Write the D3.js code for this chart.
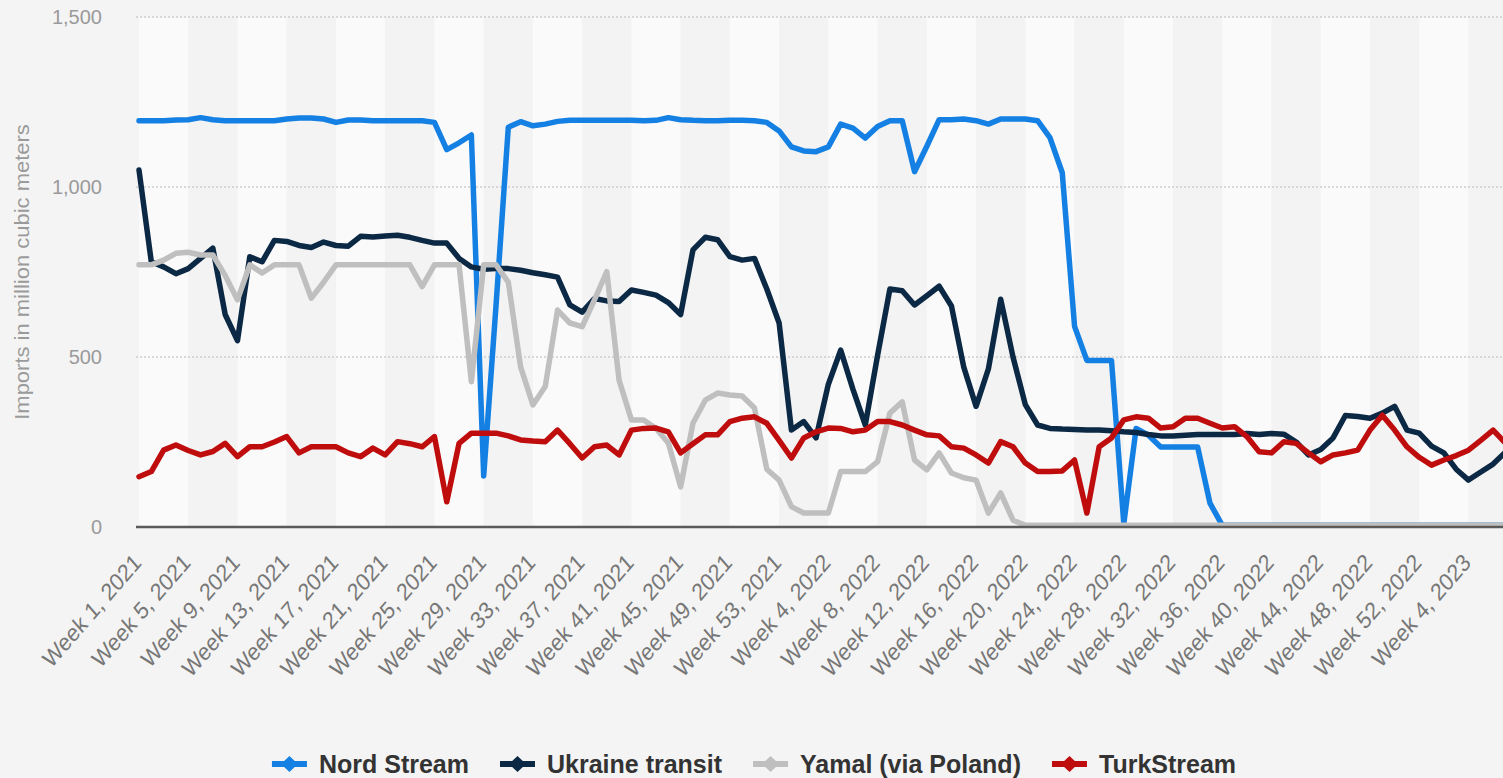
<!DOCTYPE html>
<html>
<head>
<meta charset="utf-8">
<script src="https://cdn.jsdelivr.net/npm/d3@7"></script>
<style>
  html, body { margin: 0; padding: 0; background: #f4f4f4; overflow: hidden; }
  svg { display: block; font-family: Arial, "Liberation Sans", sans-serif; }
</style>
</head>
<body>
<svg id="chart" width="1503" height="778"></svg>
<script>
// Weekly imports of Russian gas into Europe, by route (million cubic meters)
const years = [2021, 2022, 2023];
const weeksShown = [53, 52, 7];

const xTickLabels = [
  "Week 1, 2021", "Week 5, 2021", "Week 9, 2021", "Week 13, 2021", "Week 17, 2021",
  "Week 21, 2021", "Week 25, 2021", "Week 29, 2021", "Week 33, 2021", "Week 37, 2021",
  "Week 41, 2021", "Week 45, 2021", "Week 49, 2021", "Week 53, 2021", "Week 4, 2022",
  "Week 8, 2022", "Week 12, 2022", "Week 16, 2022", "Week 20, 2022", "Week 24, 2022",
  "Week 28, 2022", "Week 32, 2022", "Week 36, 2022", "Week 40, 2022", "Week 44, 2022",
  "Week 48, 2022", "Week 52, 2022", "Week 4, 2023"
];
const yTicks = [0, 500, 1000, 1500];

const nordStream = [
  1195,1195,1195,1197,1198,1204,1198,1195,1195,1195,
  1195,1195,1200,1203,1203,1200,1190,1197,1197,1195,
  1195,1195,1195,1195,1190,1110,1130,1153,150,650,
  1176,1192,1180,1185,1193,1196,1196,1196,1196,1196,
  1196,1195,1196,1204,1198,1196,1195,1195,1196,1196,
  1195,1190,1165,1118,1106,1104,1118,1185,1173,1144,
  1178,1195,1195,1045,1120,1198,1198,1200,1195,1185,
  1200,1200,1200,1195,1145,1042,590,490,490,490,
  10,290,270,235,235,235,235,70,5,5,
  5,5,5,5,5,5,5,5,5,5,
  5,5,5,5,5,5,5,5,5,5,
  5,5
];
const ukraineTransit = [
  1050,780,765,745,760,790,820,625,548,795,
  780,843,840,828,822,838,828,826,855,853,
  856,858,852,843,835,835,790,765,758,760,
  760,755,748,742,735,653,632,672,665,663,
  697,690,682,660,625,815,852,845,795,785,
  790,700,600,285,310,262,420,520,405,300,
  505,700,695,653,680,708,650,470,355,465,
  670,500,360,300,290,288,287,285,285,283,
  280,278,272,268,268,270,272,272,272,272,
  275,272,275,273,250,212,228,262,328,325,
  320,335,355,285,276,238,218,170,138,162,
  185,220
];
const yamal = [
  771,771,785,805,808,800,800,740,668,771,
  747,771,771,771,673,720,771,771,771,771,
  771,771,771,707,771,771,771,427,771,771,
  720,471,359,413,638,600,589,668,751,432,
  315,315,290,247,118,305,373,394,388,385,
  350,170,138,60,41,41,41,163,163,163,
  192,335,368,197,168,218,159,145,138,41,
  100,20,5,5,5,5,5,5,5,5,
  5,5,5,5,5,5,5,5,5,5,
  5,5,5,5,5,5,5,5,5,5,
  5,5,5,5,5,5,5,5,5,5,
  5,5
];
const turkStream = [
  148,163,226,241,225,212,222,246,207,236,
  236,250,266,218,236,236,236,218,207,232,
  212,251,245,236,266,74,246,276,276,276,
  268,256,253,251,285,245,203,236,241,212,
  285,290,291,280,218,245,271,271,310,320,
  324,305,255,203,262,280,291,290,280,285,
  310,310,300,285,271,268,236,232,212,188,
  251,236,188,163,163,165,197,41,236,262,
  315,324,320,291,295,320,320,305,291,295,
  266,221,218,251,246,218,192,212,218,226,
  285,329,285,236,205,182,197,210,226,255,
  285,247
];

const seriesNames = ["Nord Stream", "Ukraine transit", "Yamal (via Poland)", "TurkStream"];
const seriesColors = ["#1580e3", "#0b2844", "#bfbfbf", "#bf0d0d"];
const seriesValues = [nordStream, ukraineTransit, yamal, turkStream];

// category labels for each week
const categories = [];
years.forEach((yr, k) => {
  for (let w = 1; w <= weeksShown[k]; w++) categories.push(`Week ${w}, ${yr}`);
});

const svg = d3.select("#chart");
const W = 1503;
const mLeft = 139, mTop = 17, mBottom = 527;

const x = d3.scalePoint().domain(categories).range([mLeft, mLeft + 12.31 * (categories.length - 1)]);
const y = d3.scaleLinear().domain([0, 1500]).range([mBottom, mTop]);

// alternating bands every 4 weeks
const bandStarts = d3.range(0, categories.length, 4);
svg.append("g").selectAll("rect").data(bandStarts).join("rect")
  .attr("x", i => x(categories[i]))
  .attr("y", mTop)
  .attr("width", i => i + 4 < categories.length ? x(categories[i + 4]) - x(categories[i]) : 60)
  .attr("height", mBottom - mTop)
  .attr("fill", (i, k) => k % 2 === 0 ? "#fafafa" : "#f3f3f3");

// grid
svg.append("g").selectAll("line").data(yTicks.filter(d => d > 0)).join("line")
  .attr("x1", mLeft - 3).attr("x2", W)
  .attr("y1", d => y(d)).attr("y2", d => y(d))
  .attr("stroke", "#cdcdcd").attr("stroke-width", 1.5).attr("stroke-dasharray", "2,2");

// y tick labels
svg.append("g").selectAll("text").data(yTicks).join("text")
  .attr("x", 102).attr("y", d => y(d)).attr("dy", "0.35em")
  .attr("text-anchor", "end").attr("fill", "#9a9a9a").style("font-size", "20px")
  .text(d => d3.format(",")(d));

svg.append("text")
  .attr("transform", `translate(29,${(mTop + mBottom) / 2}) scale(0.95,1) rotate(-90)`)
  .attr("text-anchor", "middle").attr("fill", "#9a9a9a").style("font-size", "22px")
  .text("Imports in million cubic meters");

// x axis
const xAxis = svg.append("g").attr("transform", `translate(0,${mBottom})`)
  .call(d3.axisBottom(x).tickValues(xTickLabels).tickSize(0));
xAxis.select(".domain").remove();
xAxis.selectAll("text")
  .attr("x", 0).attr("y", 0).attr("dy", 0)
  .attr("transform", "translate(3,37) scale(1,1.15) rotate(-45)")
  .attr("text-anchor", "end").attr("fill", "#777")
  .style("font-size", "21px").style("font-family", "Arial, 'Liberation Sans', sans-serif");

// lines
const line = d3.line().x((d, i) => x(categories[i])).y(d => y(d));
svg.append("g").selectAll("path").data(seriesValues).join("path")
  .attr("d", line)
  .attr("fill", "none")
  .attr("stroke", (d, i) => seriesColors[i])
  .attr("stroke-width", 5.5)
  .attr("stroke-linejoin", "round")
  .attr("stroke-linecap", "round");

// baseline
svg.append("line").attr("x1", mLeft - 3).attr("x2", W).attr("y1", mBottom).attr("y2", mBottom)
  .attr("stroke", "#5a5a5a").attr("stroke-width", 2.5);

// legend
const legend = svg.append("g").attr("transform", "translate(0,764)");
let cursor = 0;
const gap = 31;
const items = seriesNames.map((name, i) => {
  const g = legend.append("g");
  g.append("line").attr("x1", 0).attr("x2", 35).attr("y1", 0).attr("y2", 0)
    .attr("stroke", seriesColors[i]).attr("stroke-width", 6);
  g.append("path").attr("d", "M17.5,-8 L26,0 L17.5,8 L9,0 Z").attr("fill", seriesColors[i]);
  const t = g.append("text").attr("x", 47).attr("dy", "0.35em")
    .attr("fill", "#333").style("font-size", "25px").style("font-weight", "bold").text(name);
  const pos = cursor;
  cursor += 47 + t.node().getComputedTextLength() + gap;
  return { g, pos };
});
const startX = 754 - (cursor - gap) / 2;
items.forEach(it => it.g.attr("transform", `translate(${startX + it.pos},0)`));
</script>
</body>
</html>
